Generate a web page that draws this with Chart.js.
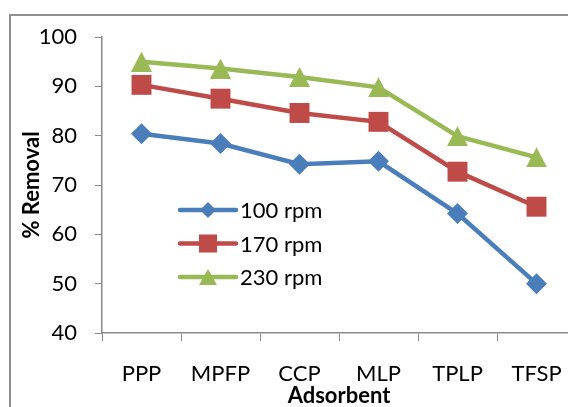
<!DOCTYPE html>
<html>
<head>
<meta charset="utf-8">
<script src="https://cdn.jsdelivr.net/npm/chart.js@4/dist/chart.umd.min.js"></script>
<style>
  html, body { margin: 0; padding: 0; background: #fff; overflow: hidden; }
  #wrap { position: relative; width: 568px; height: 407px; overflow: hidden; }
  #frame { position: absolute; left: 9px; top: 14px; width: 800px; height: 600px; border: 2px solid #8f8f8f; }
  #chartLines { position: absolute; left: 0; top: 0; }
</style>
</head>
<body>
<div id="wrap">
  <div id="frame"></div>
  <canvas id="chartLines" width="600" height="420"></canvas>
</div>
<script>
// adsorbents on the x axis
let labelsAdsorbent = ['PPP', 'MPFP', 'CCP', 'MLP', 'TPLP', 'TFSP'];

// % removal for each agitation speed
let data100 = [80.4, 78.4, 74.2, 74.8, 64.2, 50.0];
let data170 = [90.3, 87.5, 84.6, 82.8, 72.7, 65.6];
let data230 = [95.0, 93.6, 91.9, 89.8, 79.9, 75.6];

let yMin = 40;
let yMax = 100;
let yStep = 10;

const blue = '#4A7EBB';
const red = '#BE4B48';
const green = '#98B954';
const axisGrey = '#8a8a8a';
const fontName = 'Lato, "Open Sans", sans-serif';

// triangle marker drawn centred on its box
function makeTriangle(color, w, h) {
    const c = document.createElement('canvas');
    c.width = w;
    c.height = h;
    const g = c.getContext('2d');
    g.fillStyle = color;
    g.beginPath();
    g.moveTo(w / 2, 0);
    g.lineTo(w, h);
    g.lineTo(0, h);
    g.closePath();
    g.fill();
    return c;
}

const triBig = makeTriangle(green, 21, 20);
const triSmall = makeTriangle(green, 18, 16);

// legend drawn inside the plot, under the lines
const innerLegend = {
    id: 'innerLegend',
    afterDatasetsDraw(chart) {
        const ctx = chart.ctx;
        const x0 = 180, x1 = 236, textX = 240;
        const rows = [210, 243.5, 277];
        ctx.save();
        chart.data.datasets.forEach((ds, i) => {
            const y = rows[i];
            ctx.strokeStyle = ds.borderColor;
            ctx.lineWidth = ds.borderWidth;
            ctx.lineCap = 'round';
            ctx.beginPath();
            ctx.moveTo(x0, y);
            ctx.lineTo(x1, y);
            ctx.stroke();
            const mx = (x0 + x1) / 2;
            ctx.fillStyle = ds.pointBackgroundColor;
            if (ds.legendMarker === 'rectRot') {
                const r = 8;
                ctx.beginPath();
                ctx.moveTo(mx - r, y);
                ctx.lineTo(mx, y - r);
                ctx.lineTo(mx + r, y);
                ctx.lineTo(mx, y + r);
                ctx.closePath();
                ctx.fill();
            } else if (ds.legendMarker === 'rect') {
                ctx.fillRect(mx - 9, y - 9, 18, 18);
            } else {
                ctx.drawImage(triSmall, mx - triSmall.width / 2, y - triSmall.height / 2);
            }
            ctx.fillStyle = '#000';
            ctx.font = '22px ' + fontName;
            ctx.textAlign = 'left';
            ctx.textBaseline = 'middle';
            ctx.fillText(ds.label, textX, y + 1);
        });
        ctx.restore();
    }
};

let ctxLines = document.getElementById('chartLines');

let myChart = new Chart(ctxLines, {
    type: 'line',
    data: {
        labels: labelsAdsorbent,
        datasets: [{
            label: '100 rpm',
            data: data100,
            borderColor: blue,
            backgroundColor: blue,
            pointBackgroundColor: blue,
            borderWidth: 4.5,
            pointStyle: 'rectRot',
            pointRadius: 10.5,
            pointBorderWidth: 0,
            legendMarker: 'rectRot'
        }, {
            label: '170 rpm',
            data: data170,
            borderColor: red,
            backgroundColor: red,
            pointBackgroundColor: red,
            borderWidth: 4.5,
            pointStyle: 'rect',
            pointRadius: 14.1,
            pointBorderWidth: 0,
            legendMarker: 'rect'
        }, {
            label: '230 rpm',
            data: data230,
            borderColor: green,
            backgroundColor: green,
            pointBackgroundColor: green,
            borderWidth: 4.5,
            pointStyle: triBig,
            pointRadius: 10,
            pointBorderWidth: 0,
            legendMarker: 'triangle'
        }]
    },
    options: {
        responsive: false,
        animation: false,
        layout: {
            padding: { left: 0, top: 37, right: 24, bottom: 0 }
        },
        plugins: {
            legend: { display: false },
            tooltip: { enabled: false }
        },
        scales: {
            x: {
                offset: true,
                afterFit(scale) { scale.height = 87; },
                grid: {
                    offset: true,
                    drawOnChartArea: false,
                    drawTicks: true,
                    tickLength: 8,
                    color: axisGrey,
                    lineWidth: 1
                },
                border: { display: true, color: axisGrey, width: 1.5 },
                ticks: {
                    color: '#000',
                    padding: 20,
                    font: { family: fontName, size: 22 }
                },
                title: {
                    display: true,
                    text: 'Adsorbent',
                    color: '#000',
                    padding: { top: 0, bottom: 11 },
                    font: { family: fontName, size: 22, weight: 'bold' }
                }
            },
            y: {
                min: yMin,
                max: yMax,
                afterFit(scale) { scale.width = 102; },
                grid: {
                    drawOnChartArea: false,
                    drawTicks: true,
                    tickLength: 7,
                    color: axisGrey,
                    lineWidth: 1
                },
                border: { display: true, color: axisGrey, width: 1.5 },
                ticks: {
                    stepSize: yStep,
                    color: '#000',
                    padding: 18,
                    font: { family: fontName, size: 22 }
                },
                title: {
                    display: true,
                    text: '% Removal',
                    color: '#000',
                    padding: { top: 19, bottom: 0 },
                    font: { family: fontName, size: 22, weight: 'bold' }
                }
            }
        }
    },
    plugins: [innerLegend]
});
</script>
</body>
</html>
